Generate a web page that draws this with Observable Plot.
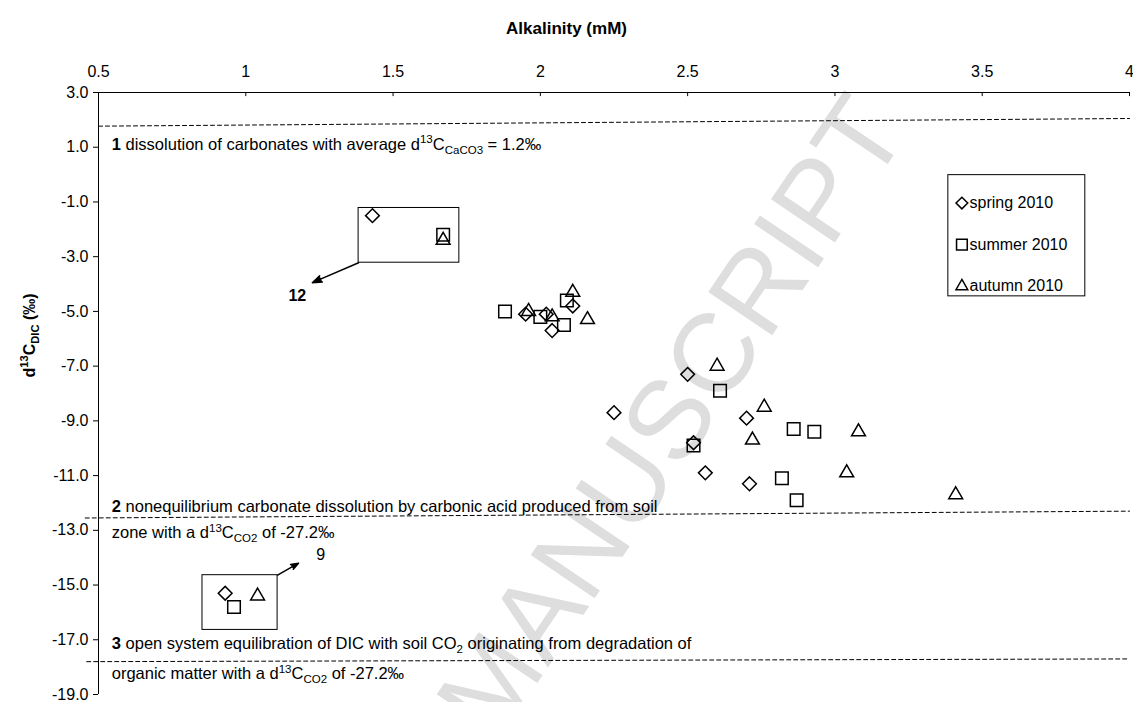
<!DOCTYPE html>
<html><head><meta charset="utf-8">
<script src="https://cdn.jsdelivr.net/npm/d3@7"></script>
<script src="https://cdn.jsdelivr.net/npm/@observablehq/plot@0.6"></script>
<style>
body{margin:0;background:#fff;}
#chart svg{font-family:"Liberation Sans",Arial,sans-serif;}
</style>
</head><body><div id="chart"></div>
<script>
// ---- data ----
const seasons = ["spring 2010", "summer 2010", "autumn 2010"];
const springAlk  = [1.43, 1.95, 2.02, 2.04, 2.11, 2.50, 2.25, 2.70, 2.52, 2.56, 2.71, 0.93];
const springD13C = [-1.5, -5.1, -5.1, -5.7, -4.8, -7.3, -8.7, -8.9, -9.8, -10.9, -11.3, -15.3];
const summerAlk  = [1.67, 1.88, 2.00, 2.08, 2.09, 2.61, 2.86, 2.93, 2.52, 2.82, 2.87, 0.96];
const summerD13C = [-2.2, -5.0, -5.2, -5.5, -4.6, -7.9, -9.3, -9.4, -9.9, -11.1, -11.9, -15.8];
const autumnAlk  = [1.67, 1.96, 2.04, 2.11, 2.16, 2.60, 2.76, 2.72, 3.08, 3.04, 3.41, 1.04];
const autumnD13C = [-2.4, -5.0, -5.2, -4.3, -5.3, -7.0, -8.5, -9.7, -9.4, -10.9, -11.7, -15.4];
const xTicks = [0.5, 1, 1.5, 2, 2.5, 3, 3.5, 4];
const yTicks = [3, 1, -1, -3, -5, -7, -9, -11, -13, -15, -17, -19];

// reference lines (end points, data units)
const line1 = [{x: 0.5, y: 1.77}, {x: 4, y: 2.05}];
const line2 = [{x: 0.455, y: -12.55}, {x: 4, y: -12.3}];
const line3 = [{x: 0.46, y: -17.8}, {x: 4, y: -17.7}];

// annotation texts (markup: *bold*, ^{sup}, _{sub})
const notes = [
  {x: 0.545, y: 1.1,    m: "*1* dissolution of carbonates with average d^{13}C_{CaCO3} = 1.2‰"},
  {x: 0.545, y: -12.15, m: "*2* nonequilibrium carbonate dissolution by carbonic acid produced from soil"},
  {x: 0.545, y: -13.1,  m: "zone with a d^{13}C_{CO2} of -27.2‰"},
  {x: 0.545, y: -17.15, m: "*3* open system equilibration of DIC with soil CO_{2} originating from degradation of"},
  {x: 0.545, y: -18.25, m: "organic matter with a d^{13}C_{CO2} of -27.2‰"}
];
// inset boxes, arrows, labels
const boxes = [
  {x1: 1.383, x2: 1.725, y1: -1.22, y2: -3.22},
  {x1: 0.853, x2: 1.108, y1: -14.64, y2: -16.64}
];
const arrows = [
  {x1: 1.383, y1: -3.22, x2: 1.226, y2: -3.95},
  {x1: 1.108, y1: -14.64, x2: 1.179, y2: -14.2}
];
const boldLabels = [{x: 1.175, y: -4.45, t: "12"}];
const plainLabels = [{x: 1.254, y: -13.9, t: "9"}];
// legend box (data units)
const legendBox = {x1: 3.385, x2: 3.85, y1: -0.02, y2: -4.45};

// ---- helpers ----
const plain = m => m.replace(/\*([^*]+)\*/g, "$1").replace(/[\^_]\{([^}]+)\}/g, "$1");
const toPts = (alk, d) => alk.map((a, i) => ({alk: a, d13c: d[i]}));
const series = [
  {name: seasons[0], symbol: "diamond2", r: 6.2, data: toPts(springAlk, springD13C)},
  {name: seasons[1], symbol: "square2",  r: 8.0, data: toPts(summerAlk, summerD13C)},
  {name: seasons[2], symbol: "triangle2", r: 6.6, data: toPts(autumnAlk, autumnD13C)}
];
const legendItems = series.map((s, i) => ({
  name: s.name, symbol: s.symbol, r: s.r,
  x: legendBox.x1 + 0.046, tx: legendBox.x1 + 0.072,
  y: legendBox.y1 - 1.02 - i * 1.52
}));

const dash = {stroke: "#000", strokeWidth: 1, strokeDasharray: "4,3", clip: false};
const FS = 16;
const NFS = 16.5;

const plot = Plot.plot({
  width: 1133, height: 702,
  marginTop: 92, marginLeft: 98, marginRight: 4, marginBottom: 8,
  x: {domain: [0.5, 4]},
  y: {domain: [-19, 3]},
  style: {fontFamily: "'Liberation Sans', Arial, sans-serif", fontSize: FS + "px", color: "#000", background: "#fff"},
  marks: [
    // watermark
    Plot.text(["MANUSCRIPT"], {x: 2.45, y: -8.9, text: d => d, rotate: -56, fontSize: 112,
      fill: "#dedede", textAnchor: "middle", clip: false}),
    // frame lines
    Plot.ruleY([3], {stroke: "#000", strokeWidth: 1}),
    Plot.ruleX([0.5], {stroke: "#000", strokeWidth: 1}),
    Plot.ruleX(xTicks, {x: d => d, y1: 3, y2: 3 - 0.15, stroke: "#000"}),
    Plot.axisX({anchor: "top", ticks: xTicks, tickSize: 0, tickPadding: 16,
      tickFormat: d => String(d), label: null, fontSize: FS}),
    Plot.axisY({anchor: "left", ticks: yTicks, tickSize: 5, tickPadding: 5,
      tickFormat: d => d.toFixed(1), label: null, fontSize: FS}),
    // axis titles
    Plot.text(["Alkalinity (mM)"], {frameAnchor: "top-left", dx: 468, dy: -71, text: d => d,
      fontWeight: "bold", fontSize: 17, textAnchor: "middle"}),
    Plot.text([plain("d^{13}C_{DIC} (‰)")], {frameAnchor: "top-left", dx: -75, dy: 243, text: d => d,
      fontWeight: "bold", fontSize: FS, rotate: -90, textAnchor: "middle"}),
    // dashed reference lines
    Plot.line(line1, {x: "x", y: "y", ...dash}),
    Plot.line(line2, {x: "x", y: "y", ...dash}),
    Plot.line(line3, {x: "x", y: "y", ...dash}),
    // annotation texts
    Plot.text(notes, {x: "x", y: "y", text: d => plain(d.m), textAnchor: "start", fontSize: NFS, clip: false}),
    // inset boxes + arrows
    Plot.rect(boxes, {x1: "x1", x2: "x2", y1: "y1", y2: "y2", fill: "none", stroke: "#000", strokeWidth: 1}),
    Plot.arrow(arrows, {x1: "x1", y1: "y1", x2: "x2", y2: "y2", stroke: "#000", strokeWidth: 1.5,
      headLength: 10, headAngle: 40}),
    Plot.text(boldLabels, {x: "x", y: "y", text: "t", fontWeight: "bold", fontSize: FS}),
    Plot.text(plainLabels, {x: "x", y: "y", text: "t", fontSize: FS}),
    // data
    ...series.map(s => Plot.dot(s.data, {x: "alk", y: "d13c", symbol: () => s.symbol, r: s.r,
      stroke: "#000", strokeWidth: 1.5, fill: "none"})),
    // legend
    Plot.rect([legendBox], {x1: "x1", x2: "x2", y1: "y1", y2: "y2", fill: "#fff", stroke: "#000", strokeWidth: 1}),
    ...legendItems.map(it => Plot.dot([it], {x: "x", y: "y", symbol: () => it.symbol, r: it.r * 0.85,
      stroke: "#000", strokeWidth: 1.5, fill: "none"})),
    Plot.text(legendItems, {x: "tx", y: "y", text: "name", textAnchor: "start", fontSize: FS})
  ]
});

// filled arrow heads (the head sub-path closes into a triangle when filled)
plot.querySelectorAll('g[aria-label="arrow"]').forEach(g => {
  g.setAttribute("fill", "#000");
  g.querySelectorAll("path").forEach(p => { p.setAttribute("fill", "#000"); p.setAttribute("stroke-linejoin", "miter"); });
});

// rich text: superscripts / subscripts / bold pieces
const richMap = new Map();
for (const n of notes) richMap.set(plain(n.m), [n.m, NFS]);
richMap.set(plain("d^{13}C_{DIC} (‰)"), ["d^{13}C_{DIC} (‰)", FS]);
function richify(el, markup, base) {
  const parts = markup.split(/(\*[^*]+\*|\^\{[^}]+\}|_\{[^}]+\})/).filter(s => s);
  el.textContent = "";
  let shift = 0;
  for (const p of parts) {
    const ts = document.createElementNS("http://www.w3.org/2000/svg", "tspan");
    let txt = p, target = 0, small = false, bold = false;
    if (p.startsWith("*")) { txt = p.slice(1, -1); bold = true; }
    else if (p.startsWith("^{")) { txt = p.slice(2, -1); target = -0.4 * base; small = true; }
    else if (p.startsWith("_{")) { txt = p.slice(2, -1); target = 0.25 * base; small = true; }
    if (target - shift !== 0) ts.setAttribute("dy", target - shift);
    shift = target;
    if (small) ts.setAttribute("font-size", (0.7 * base).toFixed(1));
    if (bold) ts.setAttribute("font-weight", "bold");
    ts.textContent = txt;
    el.appendChild(ts);
  }
}
plot.querySelectorAll("text").forEach(el => {
  const t = el.textContent;
  if (richMap.has(t)) { const [m, b] = richMap.get(t); richify(el, m, b); }
});
document.getElementById("chart").appendChild(plot);
</script>
</body></html>
